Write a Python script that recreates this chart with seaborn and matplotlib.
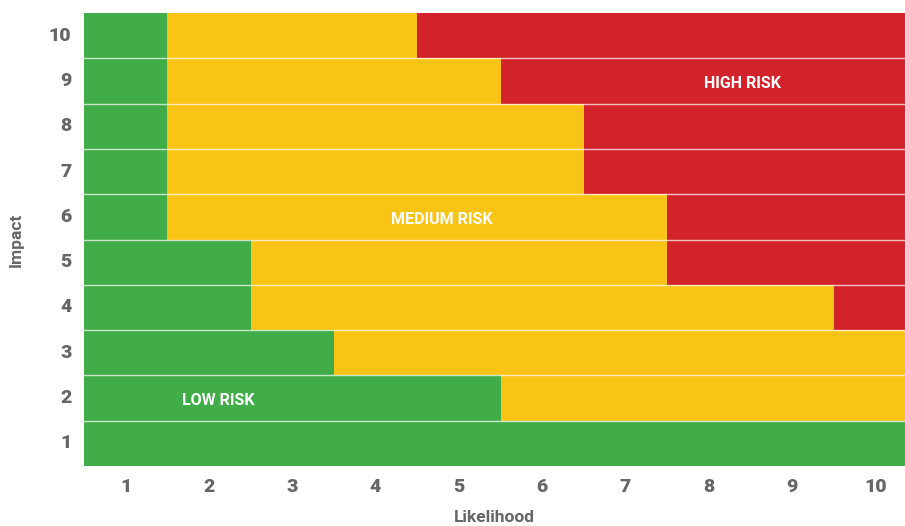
import numpy as np
import pandas as pd
import matplotlib
matplotlib.use("Agg")
import matplotlib.pyplot as plt
from matplotlib.colors import ListedColormap
import seaborn as sns

likelihood = [1, 2, 3, 4, 5, 6, 7, 8, 9, 10]
impact = [10, 9, 8, 7, 6, 5, 4, 3, 2, 1]
# risk level: 0 = low (green), 1 = medium (yellow), 2 = high (red)
risk_rows = [
    [0, 1, 1, 1, 2, 2, 2, 2, 2, 2],  # 10
    [0, 1, 1, 1, 1, 2, 2, 2, 2, 2],  # 9
    [0, 1, 1, 1, 1, 1, 2, 2, 2, 2],  # 8
    [0, 1, 1, 1, 1, 1, 2, 2, 2, 2],  # 7
    [0, 1, 1, 1, 1, 1, 1, 2, 2, 2],  # 6
    [0, 0, 1, 1, 1, 1, 1, 2, 2, 2],  # 5
    [0, 0, 1, 1, 1, 1, 1, 1, 1, 2],  # 4
    [0, 0, 0, 1, 1, 1, 1, 1, 1, 1],  # 3
    [0, 0, 0, 0, 0, 1, 1, 1, 1, 1],  # 2
    [0, 0, 0, 0, 0, 0, 0, 0, 0, 0],  # 1
]
zone_labels = ["LOW RISK", "MEDIUM RISK", "HIGH RISK"]
zone_colors = ["#41AD49", "#F9C416", "#D2232A"]

df = pd.DataFrame(risk_rows, index=impact, columns=likelihood)

fig = plt.figure(figsize=(9.05, 5.26), dpi=100)
ax = fig.add_axes([84 / 905, 60 / 526, 833 / 905, 453 / 526])
sns.heatmap(df, ax=ax, cmap=ListedColormap(zone_colors), vmin=-0.5, vmax=2.5,
            cbar=False, linewidths=0)

for i in range(1, len(impact)):
    ax.axhline(i, color="white", lw=1.0, alpha=0.7)

font = ["Roboto", "DejaVu Sans"]
grey = "#666666"
ax.set_xticklabels(likelihood, rotation=0, fontsize=14, fontweight="heavy",
                   color=grey, family=font)
ax.set_yticklabels(impact, rotation=0, fontsize=14, fontweight="heavy",
                   color=grey, family=font)
ax.tick_params(axis="y", length=0, pad=9)
ax.tick_params(axis="x", length=0, pad=9)
ax.set_xlabel("")
ax.set_ylabel("Impact", fontsize=12.5, fontweight="bold", color=grey,
              family=font, labelpad=18)
fig.text(494.5 / 905, 1 - 510 / 526, "Likelihood", fontsize=12.5,
         fontweight="bold", color=grey, family=font, ha="center", va="top")

# zone annotations
ax.text(7.91, 1.55, zone_labels[2], color="white", fontsize=11.5,
        fontweight="bold", family=font, ha="center", va="center")
ax.text(4.30, 4.55, zone_labels[1], color="white", fontsize=11.5,
        fontweight="bold", family=font, ha="center", va="center")
ax.text(1.61, 8.55, zone_labels[0], color="white", fontsize=11.5,
        fontweight="bold", family=font, ha="center", va="center")

for s in ax.spines.values():
    s.set_visible(False)

fig.savefig("out.png", dpi=100)
